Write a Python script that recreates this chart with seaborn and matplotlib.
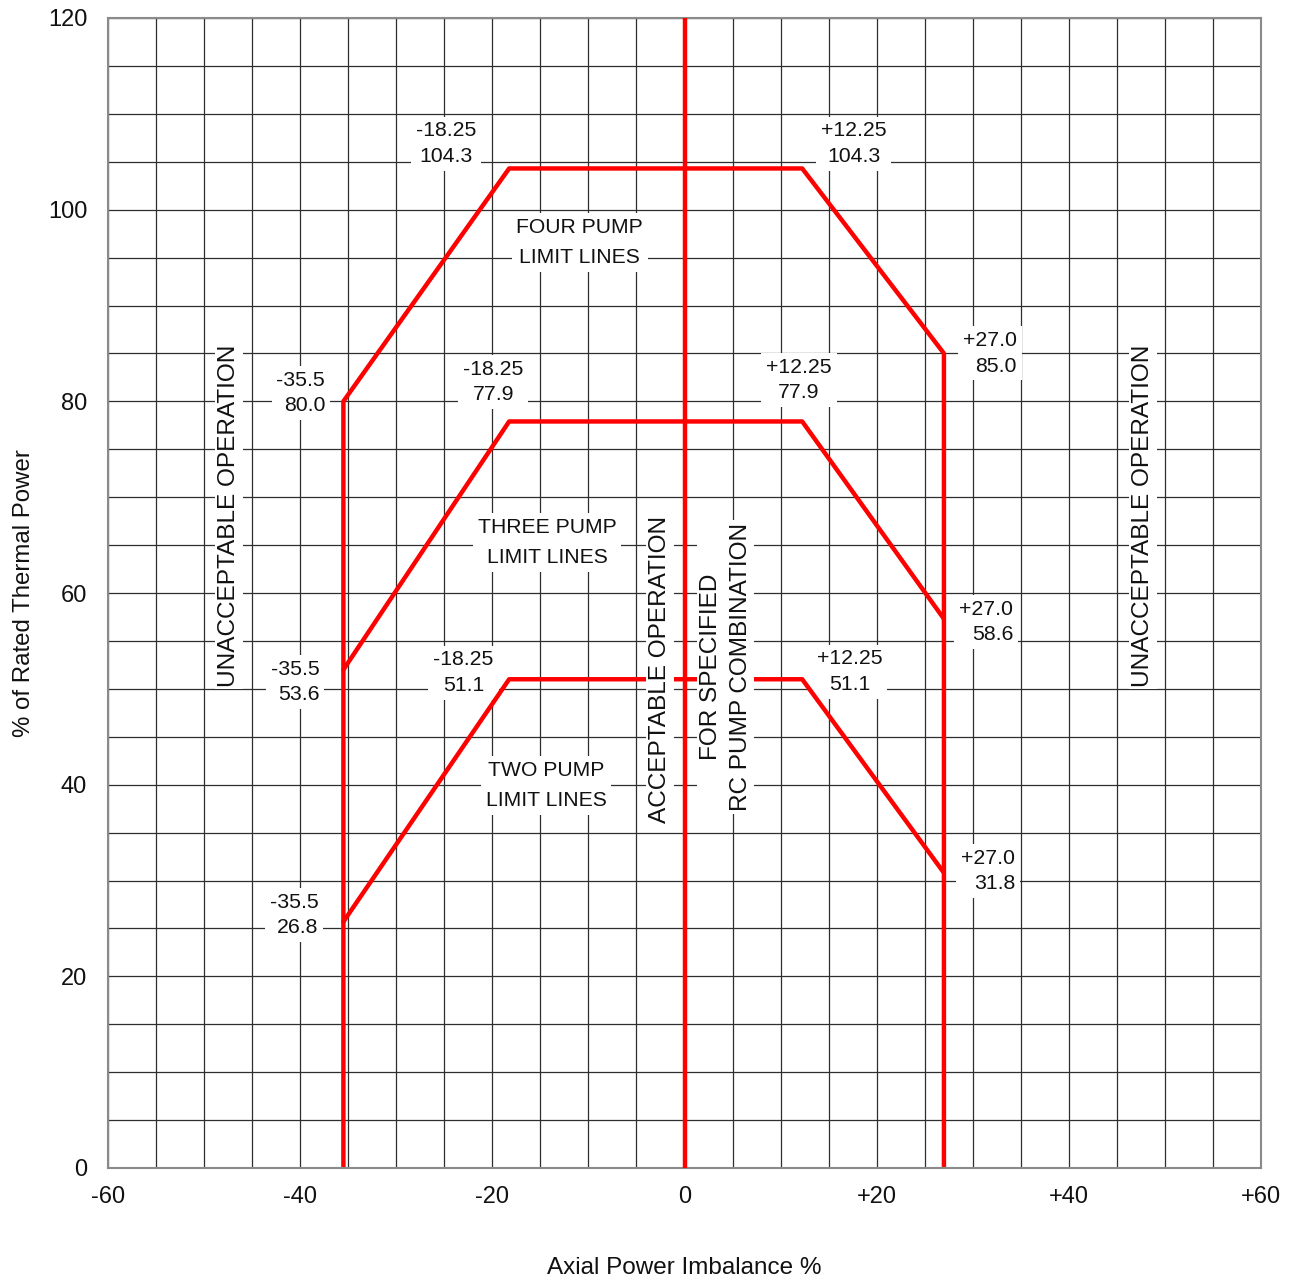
import matplotlib
matplotlib.use("Agg")
import matplotlib.pyplot as plt
import seaborn as sns
from matplotlib.ticker import MultipleLocator

# ---- data ----
four_x = [-35.5, -35.5, -18.25, 12.25, 27.0, 27.0]
four_y = [0.0, 80.0, 104.3, 104.3, 85.0, 0.0]
three_x = [-35.5, -18.25, 12.25, 27.0]
three_y = [52.0, 77.9, 77.9, 57.3]
two_x = [-35.5, -18.25, 12.25, 27.0]
two_y = [25.7, 51.0, 51.0, 30.8]
center_x = [0.0, 0.0]
center_y = [0.0, 120.0]

x_ticks = [-60, -40, -20, 0, 20, 40, 60]
x_ticklabels = ["-60", "-40", "-20", "0", "+20", "+40", "+60"]
y_ticks = [0, 20, 40, 60, 80, 100, 120]
y_ticklabels = ["0", "20", "40", "60", "80", "100", "120"]

point_labels = ["-35.5\n80.0", "-18.25\n104.3", "+12.25\n104.3", "+27.0\n85.0",
                "-18.25\n77.9", "+12.25\n77.9", "-35.5\n53.6", "+27.0\n58.6",
                "-18.25\n51.1", "+12.25\n51.1", "-35.5\n26.8", "+27.0\n31.8"]
point_label_x = [-37.4, -24.8, 17.6, 34.6, -19.9, 11.9, -38.0, 34.2,
                 -23.0, 17.2, -38.1, 34.4]
point_label_y = [80.9, 106.9, 106.9, 85.0, 82.0, 82.2, 50.7, 57.0,
                 51.7, 51.8, 26.4, 31.0]
point_label_ha = ["right", "center", "center", "right", "center", "center",
                  "right", "right", "center", "center", "right", "right"]

sns.set_theme(style="white")
plt.rcParams['font.family'] = ['Liberation Sans', 'DejaVu Sans']

fig = plt.figure(figsize=(12.94, 12.80), dpi=100)
ax = fig.add_axes([108/1294, 1 - 1168/1280, 1153/1294, 1150/1280])

red = "#ff0000"
lw = 3.2
sns.lineplot(x=four_x, y=four_y, sort=False, estimator=None, color=red, lw=lw, ax=ax, zorder=2)
sns.lineplot(x=three_x, y=three_y, sort=False, estimator=None, color=red, lw=lw, ax=ax, zorder=2)
sns.lineplot(x=two_x, y=two_y, sort=False, estimator=None, color=red, lw=lw, ax=ax, zorder=2)
sns.lineplot(x=center_x, y=center_y, sort=False, estimator=None, color=red, lw=lw, ax=ax, zorder=5)

ax.set_xlim(-60, 60)
ax.set_ylim(0, 120)
ax.set_xticks(x_ticks)
ax.set_xticklabels(x_ticklabels)
ax.set_yticks(y_ticks)
ax.set_yticklabels(y_ticklabels)
ax.xaxis.set_minor_locator(MultipleLocator(5))
ax.yaxis.set_minor_locator(MultipleLocator(5))
ax.grid(True, which="both", color="#2e2e2e", lw=0.9, zorder=0)
ax.set_axisbelow(True)
ax.tick_params(axis="both", which="both", length=0, labelsize=17, colors="#111111")
ax.tick_params(axis="x", pad=13)
ax.tick_params(axis="y", pad=15)
for s in ax.spines.values():
    s.set_color("#8a8a8a")
    s.set_linewidth(1.5)

ax.set_xlabel("Axial Power Imbalance %", fontsize=17.5, labelpad=35, color="#111111")
ax.set_ylabel("% of Rated Thermal Power", fontsize=17.3, labelpad=9, color="#111111")

box = dict(facecolor="white", edgecolor="none", pad=3.5)

for txt, x, y, ha in zip(point_labels, point_label_x, point_label_y, point_label_ha):
    ax.text(x, y, txt, ha=ha, va="center", multialignment=ha, fontsize=15.3,
            linespacing=1.42, bbox=box, zorder=1.5, color="#111111")

for txt, x, y in [("FOUR PUMP\nLIMIT LINES", -10.9, 96.6),
                  ("THREE PUMP\nLIMIT LINES", -14.3, 65.3),
                  ("TWO PUMP\nLIMIT LINES", -14.4, 39.9)]:
    ax.text(x, y, txt, ha="center", va="center", fontsize=15.2, linespacing=1.75,
            bbox=box, zorder=1.5, color="#111111")

vbox = dict(facecolor="white", edgecolor="none", pad=2)
ax.text(-47.4, 68.1, "UNACCEPTABLE OPERATION", rotation=90, ha="center", va="center",
        fontsize=17.6, bbox=vbox, zorder=3, color="#111111")
ax.text(47.7, 68.1, "UNACCEPTABLE OPERATION", rotation=90, ha="center", va="center",
        fontsize=17.6, bbox=vbox, zorder=3, color="#111111")
ax.text(-2.55, 52.0, "ACCEPTABLE OPERATION", rotation=90, ha="center", va="center",
        fontsize=17.6, bbox=vbox, zorder=3, color="#111111")
ax.text(4.3, 52.3, "FOR SPECIFIED\nRC PUMP COMBINATION", rotation=90, ha="center", va="center",
        fontsize=17.6, linespacing=1.45, bbox=vbox, zorder=3, color="#111111")

fig.savefig("out.png", dpi=100, facecolor="white")
